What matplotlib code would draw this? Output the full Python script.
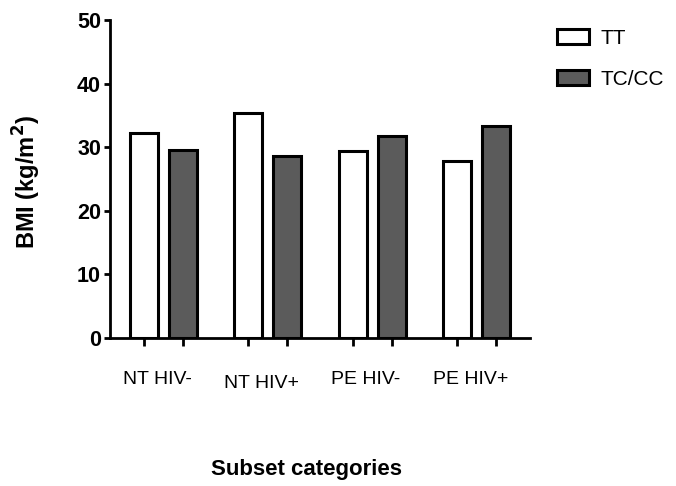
import matplotlib
matplotlib.use("Agg")
import matplotlib.pyplot as plt
import numpy as np

categories = ["NT HIV-", "NT HIV+", "PE HIV-", "PE HIV+"]
series_names = ["TT", "TC/CC"]
tt_values = [32.2, 35.4, 29.4, 27.8]
tccc_values = [29.5, 28.6, 31.8, 33.4]
yticks = [0, 10, 20, 30, 40, 50]

plt.rcParams['font.family'] = ['Liberation Sans', 'DejaVu Sans']

fig = plt.figure(figsize=(6.76, 4.86), dpi=100)
ax = fig.add_axes([110/676, 1-338/486, 420/676, 318/486])

x = np.arange(len(categories))
off = 0.187
w = 0.27
ax.bar(x - off, tt_values, w, color="white", edgecolor="black", linewidth=2.2, label=series_names[0])
ax.bar(x + off, tccc_values, w, color="#5b5b5b", edgecolor="black", linewidth=2.2, label=series_names[1])

ax.set_xlim(-0.51, 3.51)
ax.set_ylim(0, 50)
ax.set_yticks(yticks)
ax.set_yticklabels([str(v) for v in yticks], fontsize=15.5, fontweight='bold')

ax.set_xticks(np.concatenate([x - off, x + off]))
ax.set_xticklabels([])
for i, c in enumerate(categories):
    dy = -0.012 if i == 1 else 0.0
    ax.text(i - 0.06, -0.105 + dy, c, transform=ax.get_xaxis_transform(), ha='center', va='top',
            fontsize=14)

for s in ['top', 'right']:
    ax.spines[s].set_visible(False)
for s in ['left', 'bottom']:
    ax.spines[s].set_linewidth(2.0)
ax.tick_params(axis='y', direction='out', length=4.5, width=2.0, pad=2)
ax.tick_params(axis='x', direction='out', length=5.5, width=2.0)

ax.set_xlabel("Subset categories", fontsize=16, fontweight='bold')
ax.xaxis.set_label_coords(0.469, -0.38)
ax.set_ylabel("BMI (kg/m$^\\mathbf{2}$)", fontsize=17, fontweight='bold')
ax.yaxis.set_label_coords(-0.16, 0.49)

leg = fig.legend(loc='upper left', bbox_to_anchor=(557/676, 1-29/486), frameon=False,
                 fontsize=15, handlelength=1.55, handleheight=0.75, handletextpad=0.55,
                 labelspacing=1.05, borderpad=0, borderaxespad=0)

fig.savefig("out.png", dpi=100)
